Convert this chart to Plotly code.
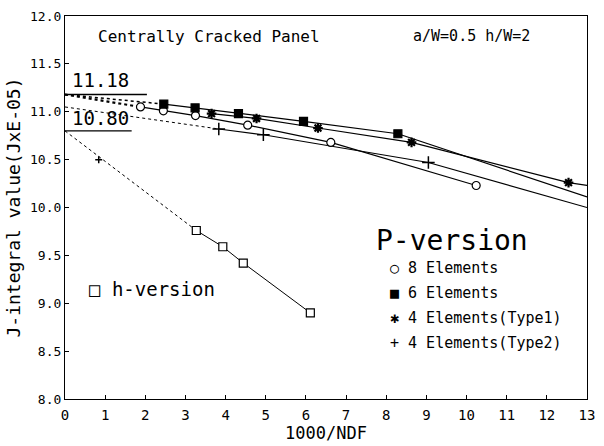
import plotly.graph_objects as go

# ---- data ----
x_p8 = [1.88, 2.45, 3.25, 4.55, 6.62, 10.24]
y_p8 = [11.05, 11.01, 10.96, 10.86, 10.68, 10.23]

x_p6 = [2.46, 3.24, 4.32, 5.94, 8.29]
y_p6 = [11.08, 11.04, 10.98, 10.90, 10.77]
x_p6_end = [8.29, 13.0]
y_p6_end = [10.77, 10.11]

x_p4a = [3.65, 4.77, 6.30, 8.63, 12.54]
y_p4a = [10.98, 10.93, 10.83, 10.68, 10.26]
x_p4a_end = [12.54, 13.0]
y_p4a_end = [10.26, 10.23]

x_p4b = [3.83, 4.94, 9.05]
y_p4b = [10.82, 10.76, 10.47]
x_p4b_end = [9.05, 13.0]
y_p4b_end = [10.47, 10.00]

x_h = [3.27, 3.93, 4.44, 6.11]
y_h = [9.76, 9.59, 9.42, 8.90]

x_stray = [0.84]
y_stray = [10.50]

J_p = 11.18     # P-version extrapolated value
J_h = 10.80     # h-version extrapolated value
J_p4b = 11.05   # Type2 extrapolation start

x_ticks = list(range(0, 14))
y_ticks = [8.0, 8.5, 9.0, 9.5, 10.0, 10.5, 11.0, 11.5, 12.0]

FONT = "DejaVu Sans Mono"
K = "black"

fig = go.Figure()

def line(xs, ys, dash="solid", width=1.2):
    fig.add_trace(go.Scatter(x=xs, y=ys, mode="lines",
                             line=dict(color=K, width=width, dash=dash),
                             showlegend=False, hoverinfo="skip"))

def marks(xs, ys, symbol, size, lw=1.2, fill=K):
    fig.add_trace(go.Scatter(x=xs, y=ys, mode="markers",
                             marker=dict(symbol=symbol, size=size, color=fill,
                                         line=dict(color=K, width=lw)),
                             showlegend=False, hoverinfo="skip", cliponaxis=False))

# extrapolation (dotted)
line([0, x_p8[0]], [J_p, y_p8[0]], dash="dot", width=2.2)
line([0, x_p6[0]], [J_p, y_p6[0]], dash="dot", width=1.5)
line([0, x_p4b[0]], [J_p4b, y_p4b[0]], dash="dot", width=1)
line([0, x_h[0]], [J_h, y_h[0]], dash="dot", width=1)

# reference value underlines
line([0, 2.04], [J_p, J_p], width=1.3)
line([0, 1.66], [J_h, J_h], width=1.3)

# series lines
line(x_p8, y_p8)
line(x_p6, y_p6)
line(x_p6_end, y_p6_end)
line(x_p4a, y_p4a)
line(x_p4a_end, y_p4a_end)
line(x_p4b, y_p4b)
line(x_p4b_end, y_p4b_end)
line(x_h, y_h, width=1)

# markers
marks(x_p8, y_p8, "circle", 8, fill="white")
marks(x_p6, y_p6, "square", 8)
marks(x_p4a, y_p4a, "asterisk-open", 8, lw=2.2)
marks(x_p4b, y_p4b, "cross-thin-open", 9, lw=1.5)
marks(x_h, y_h, "square", 8, fill="white")
marks(x_stray, y_stray, "cross-thin-open", 5, lw=1.5)

ann = []
def text(x, y, s, size, xanchor="left"):
    ann.append(dict(x=x, y=y, xref="x", yref="y", text=s, showarrow=False,
                    xanchor=xanchor, yanchor="middle",
                    font=dict(family=FONT, size=size, color=K)))

text(0.78, 11.79, "Centrally Cracked Panel", 16)
text(8.62, 11.79, "a/W=0.5 h/W=2", 15)
text(0.12, 11.33, "11.18", 19)
text(0.12, 10.93, "10.80", 19)
text(7.7, 9.66, "P-version", 28)
text(8.05, 9.37, "○ 8 Elements", 15)
text(8.05, 9.11, "■ 6 Elements", 15)
text(8.05, 8.85, "✱ 4 Elements(Type1)", 15)
text(8.05, 8.58, "+ 4 Elements(Type2)", 15)
text(0.55, 9.15, "□ h-version", 19)

fig.update_layout(
    width=604, height=446,
    margin=dict(l=65, r=9, t=14, b=47),
    paper_bgcolor="white", plot_bgcolor="white",
    font=dict(family=FONT, size=13, color=K),
    annotations=ann,
    showlegend=False,
)
fig.update_xaxes(range=[0, 13], tickvals=x_ticks, ticks="inside", ticklen=4,
                 tickcolor=K, showline=True, linecolor=K, linewidth=1.2, mirror=True,
                 showgrid=False, zeroline=False, ticklabelstandoff=3,
                 title=dict(text="1000/NDF", font=dict(family=FONT, size=17), standoff=2),
                 tickfont=dict(family=FONT, size=14))
fig.update_yaxes(range=[8, 12], tickvals=y_ticks, tickformat=".1f", ticks="inside", ticklen=4,
                 tickcolor=K, showline=True, linecolor=K, linewidth=1.2, mirror=True,
                 showgrid=False, zeroline=False,
                 title=dict(text="J-integral value(JxE-05)", font=dict(family=FONT, size=18), standoff=4),
                 tickfont=dict(family=FONT, size=13))

fig.write_html("out.html")
